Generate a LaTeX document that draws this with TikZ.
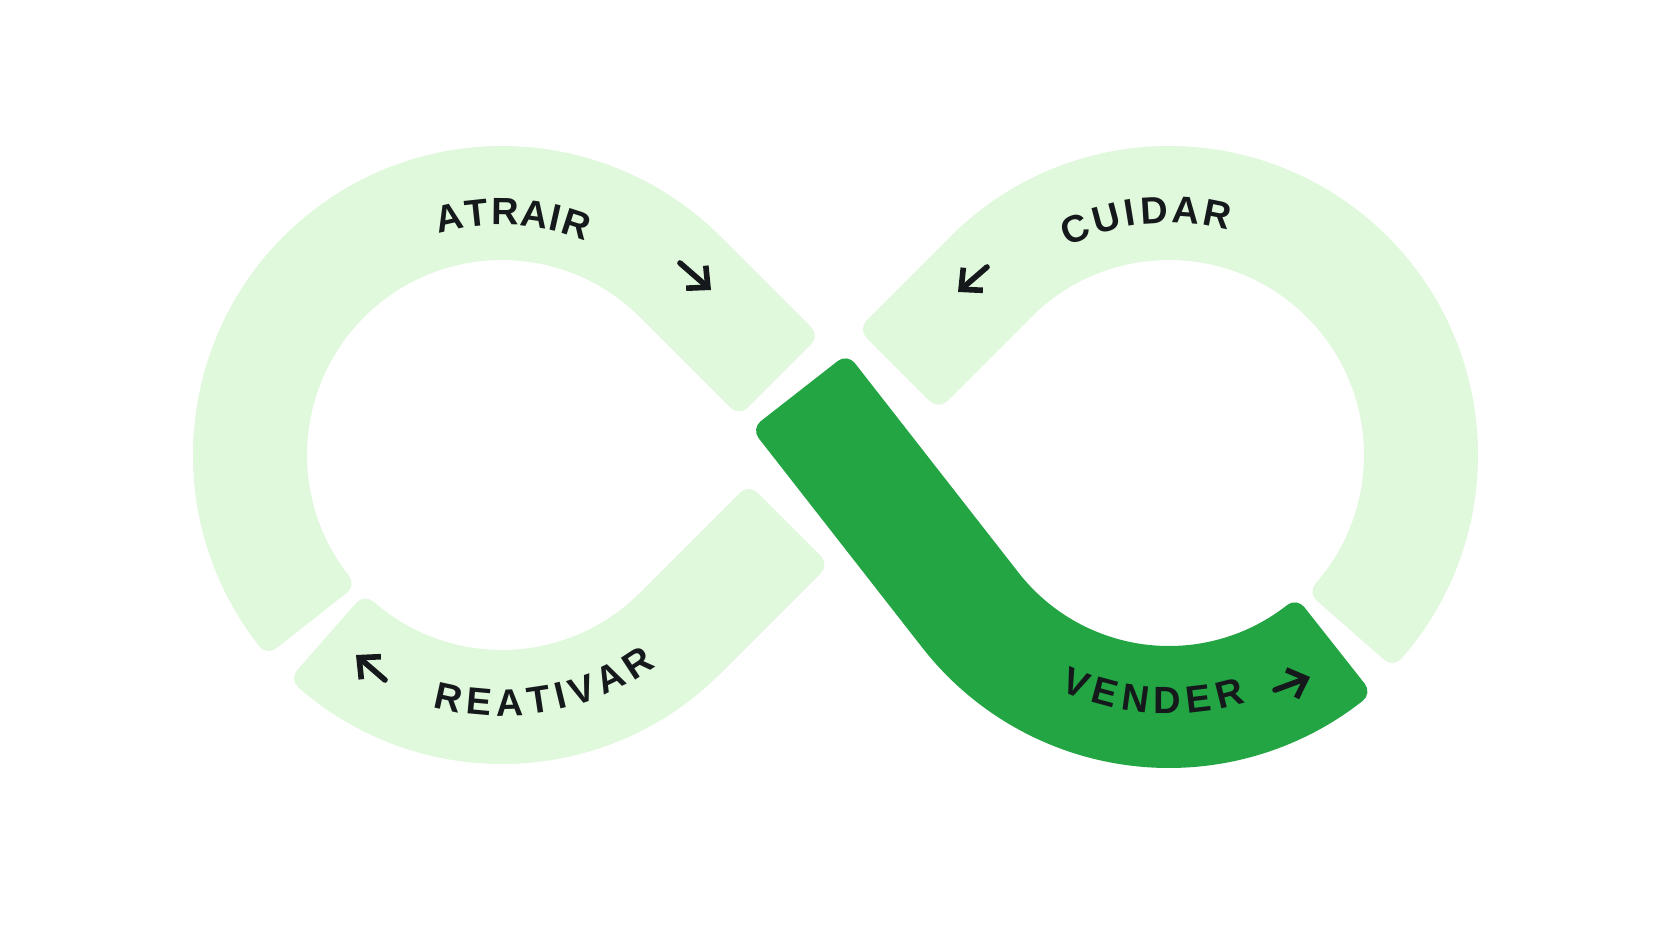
\documentclass[tikz,border=0pt]{standalone}
\usepackage{fontspec}
\newfontfamily\lblfont{Liberation Sans Bold}
\usetikzlibrary{arrows.meta}

\definecolor{lite}{HTML}{E0F8DC}
\definecolor{vgreen}{HTML}{23A544}
\definecolor{ink}{HTML}{15191B}

\tikzset{
  band/.style={line width=0.24cm, line join=round},
  tip/.style={ink, line width=1.6pt, line cap=round, -{Straight Barb[length=4.5pt,width=8.5pt]}},
  lbl/.style={font=\lblfont\fontsize{10.8pt}{13pt}\selectfont, text=ink, inner sep=0pt}
}

\begin{document}
\begin{tikzpicture}[x=0.01cm, y=0.01cm]
  \useasboundingbox (0,0) rectangle (1672,941);
  \coordinate (L) at (502,486);
  \coordinate (R) at (1169,486);

  % the four parts of the loop
  \filldraw[band, fill=lite, draw=lite] ([shift={(218.27:297)}]L)
    arc[start angle=218.27, end angle=45, radius=297] -- ++(-45:128.3)
    -- ++(-135:90) -- ++(135:128.3)
    arc[start angle=45, end angle=218.27, radius=207] -- cycle;
  \filldraw[band, fill=lite, draw=lite] ([shift={(-131.27:297)}]L)
    arc[start angle=-131.27, end angle=-45, radius=297] -- ++(45:142)
    -- ++(135:90) -- ++(-135:142)
    arc[start angle=-45, end angle=-131.27, radius=207] -- cycle;
  \filldraw[band, fill=lite, draw=lite] ([shift={(-41.27:297)}]R)
    arc[start angle=-41.27, end angle=135, radius=297] -- ++(-135:119)
    -- ++(-45:90) -- ++(45:119)
    arc[start angle=135, end angle=-41.27, radius=207] -- cycle;
  \filldraw[band, fill=vgreen, draw=vgreen] ([shift={(308.27:301)}]R)
    arc[start angle=308.27, end angle=218, radius=301] -- ++(128:266)
    -- ++(38:98) -- ++(-52:266)
    arc[start angle=218, end angle=308.27, radius=203] -- cycle;

  % labels, one letter at a time round the loops
  \foreach \l/\a [count=\i] in {A/102.63, T/96.10, R/89.32, A/82.28, I/77.27, R/72.01}
    \node[lbl, rotate=\a-90] (atrair-\i) at ([shift={(\a:243)}]L) {\l};
  \foreach \l/\a [count=\i] in {C/112.58, U/104.88, I/99.20, D/93.52, A/86.07, R/78.62}
    \node[lbl, rotate=\a-90] (cuidar-\i) at ([shift={(\a:245)}]R) {\l};
  \foreach \l/\a [count=\i] in {R/-102.40, E/-95.15, A/-88.15, T/-81.41, I/-76.40, V/-71.15, A/-64.15, R/-56.90}
    \node[lbl, rotate=\a+90] (reativar-\i) at ([shift={(\a:248)}]L) {\l};
  \foreach \l/\a [count=\i] in {V/-112.11, E/-105.10, N/-97.84, D/-90.34, E/-83.09, R/-75.83}
    \node[lbl, rotate=\a+90] (vender-\i) at ([shift={(\a:246)}]R) {\l};

  % arrows
  \coordinate (a1) at (680,678);  \coordinate (a2) at (711,651);
  \coordinate (c1) at (987,674);  \coordinate (c2) at (958,649);
  \coordinate (r1) at (385,261);  \coordinate (r2) at (356,286);
  \coordinate (v1) at (1275,251); \coordinate (v2) at (1310,264);
  \draw[tip] (a1) -- (a2);
  \draw[tip] (c1) -- (c2);
  \draw[tip] (r1) -- (r2);
  \draw[tip] (v1) -- (v2);
\end{tikzpicture}
\end{document}
